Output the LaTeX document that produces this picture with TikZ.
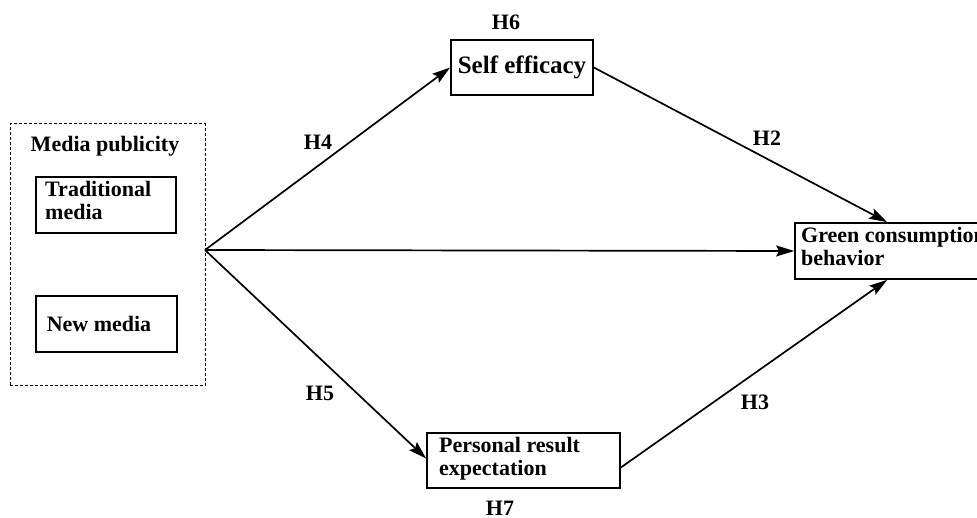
\documentclass[tikz,border=0pt]{standalone}
\usepackage{fontspec}
\setmainfont{Liberation Serif}
\usetikzlibrary{arrows.meta,calc}
\begin{document}
\begin{tikzpicture}[x=1pt,y=-1pt,
  txt/.style={font=\fontsize{22}{22}\selectfont\bfseries, inner sep=0pt},
  box/.style={draw, line width=1.7pt, inner sep=0pt},
  grp/.style={draw, densely dashed, line width=1pt, inner sep=0pt},
  arr/.style={line width=1.7pt, -{Stealth[length=18pt,width=11pt,inset=3pt]}},
  lin/.style={line width=1.7pt}]
\useasboundingbox (0,0) rectangle (977,518);
\clip (0,0) rectangle (977,518);
\fill[white] (0,0) rectangle (977,518);
% group box
\node[grp, minimum width=195pt, minimum height=262pt] (grp) at (107.5,255) {};
\node[txt] (mp) at (105,146) {Media publicity};
\node[box, minimum width=140pt, minimum height=56pt] (tm) at (106,205) {};
\node[txt, anchor=north west, align=left] (tmt) at (45,181) {Traditional\\[1pt]media};
\node[box, minimum width=141pt, minimum height=56pt] (nm) at (106.5,324) {};
\node[txt] (nmt) at (99,324) {New media};
% other boxes
\node[box, minimum width=142pt, minimum height=55pt] (se) at (522,67.5) {};
\node[txt, font=\fontsize{25}{25}\selectfont\bfseries] (set) at (522,67) {Self efficacy};
\node[box, minimum width=205pt, minimum height=56pt] (gc) at (897.5,251) {};
\node[txt, anchor=north west, align=left] (gct) at (801,227) {Green consumption\\[1pt]behavior};
\node[box, minimum width=193pt, minimum height=55pt] (pr) at (523.5,460.5) {};
\node[txt, anchor=north west, align=left] (prt) at (439,437) {Personal result\\[1pt]expectation};
% labels
\node[txt] (h6) at (506,22) {H6};
\node[txt] (h4) at (318,142) {H4};
\node[txt] (h2) at (767,138) {H2};
\node[txt] (h5) at (320,393) {H5};
\node[txt] (h3) at (755,402) {H3};
\node[txt] (h7) at (500,508) {H7};
% connectors
\coordinate (o) at (205,250);
\draw[arr] (o) -- (se.west);
\draw[arr] (o) -- (gc.west);
\draw[arr] (o) -- ([yshift=2pt]pr.west);
\draw[arr] (se.east) -- ([xshift=93pt]gc.north west);
\draw[arr] ([yshift=-7pt]pr.east) -- ([xshift=93pt]gc.south west);
\end{tikzpicture}
\end{document}
